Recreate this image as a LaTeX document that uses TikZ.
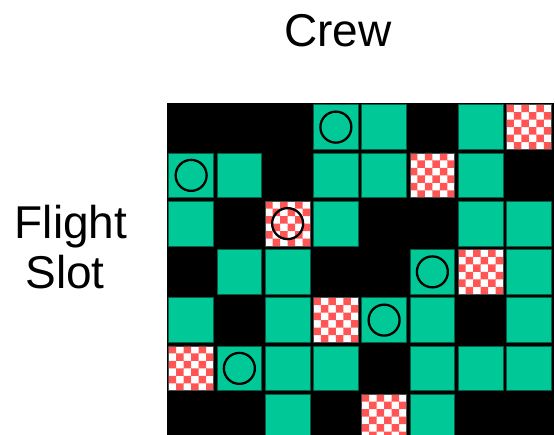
\documentclass[tikz,border=0pt]{standalone}
\usepackage{fontspec}
\setmainfont{Liberation Sans}
\usetikzlibrary{calc}
\definecolor{tealcell}{RGB}{0,201,151}
\definecolor{tealedge}{RGB}{0,95,70}
\definecolor{chkred}{RGB}{255,85,85}
\begin{document}
\begin{tikzpicture}[x=1pt,y=-1pt,
  cellbox/.style={minimum size=44.75pt, inner sep=0pt, outer sep=0pt, draw=tealedge, line width=0.8pt},
  greencell/.style={cellbox, fill=tealcell},
  checkcell/.style={cellbox, draw=black!70, fill=white, path picture={
      \fill[chkred]
        \foreach \i in {0,2,4}{\foreach \j in {0,2,4}{
          ($(path picture bounding box.north west)+(\i*7.46,\j*7.46)$) rectangle +(7.46,7.46)}}
        \foreach \i in {1,3,5}{\foreach \j in {1,3,5}{
          ($(path picture bounding box.north west)+(\i*7.46,\j*7.46)$) rectangle +(7.46,7.46)}};
    }},
  ring/.style={circle, draw=black, line width=2.3pt, minimum size=31pt, inner sep=0pt},
  lab/.style={font=\fontsize{46}{52}\selectfont, inner sep=0pt, anchor=base}]
\useasboundingbox (0,0) rectangle (555,435);
\fill[black] (167,103) rectangle (553.5,445);
\foreach \r/\rowdata in {0/{B,B,B,O,G,B,G,C},1/{O,G,B,G,G,C,G,B},2/{G,B,X,G,B,B,G,G},3/{B,G,G,B,B,O,C,G},4/{G,B,G,C,O,G,B,G},5/{C,O,G,G,B,G,G,G},6/{B,B,G,B,C,G,B,B}}{
  \foreach \k [count=\c from 0] in \rowdata {
    \pgfmathsetmacro\cx{167+48.25*\c+24.125}
    \pgfmathsetmacro\cy{103+48.25*\r+24.125}
    \if\k G \node[greencell] (cell-\r-\c) at (\cx,\cy) {};\fi
    \if\k O \node[greencell] (cell-\r-\c) at (\cx,\cy) {};
            \node[ring] (ring-\r-\c) at (cell-\r-\c.center) {};\fi
    \if\k C \node[checkcell] (cell-\r-\c) at (\cx,\cy) {};\fi
    \if\k X \node[checkcell] (cell-\r-\c) at (\cx,\cy) {};
            \node[ring] (ring-\r-\c) at (cell-\r-\c.center) {};\fi
  }
}
\node[lab] (crew) at (338,47) {Crew};
\node[lab] (flight) at (71,239) {Flight};
\node[lab] (slot) at (65,289) {Slot};
\end{tikzpicture}
\end{document}
